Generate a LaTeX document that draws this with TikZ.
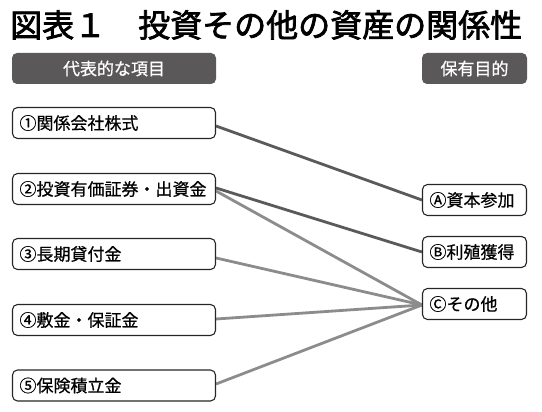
\documentclass[tikz,border=0pt]{standalone}
\usepackage{fontspec}
\setmainfont{Noto Sans CJK JP}
\newfontfamily\titlefont[FakeBold=2.2]{Noto Sans CJK JP}
\newfontfamily\itemfont[FakeBold=0.6]{Noto Sans CJK JP}
\usetikzlibrary{backgrounds}
\definecolor{hdr}{HTML}{5A5858}
\definecolor{darkln}{HTML}{5A5A5A}
\definecolor{lightln}{HTML}{8C8C8C}
\tikzset{
  item/.style={draw=black!85, line width=1.1pt, rounded corners=5pt, fill=white,
    minimum height=31pt, inner xsep=7pt, inner ysep=0pt, align=left,
    font=\itemfont\fontsize{17pt}{19pt}\selectfont},
  leftitem/.style={item, text width=189pt},
  rightitem/.style={item, text width=90pt},
  header/.style={fill=hdr, rounded corners=5pt, minimum height=31pt, inner sep=0pt,
    text=white, font=\itemfont\fontsize{17pt}{19pt}\selectfont},
  darklink/.style={draw=darkln, line width=2.8pt},
  lightlink/.style={draw=lightln, line width=2.8pt},
}
\begin{document}
\begin{tikzpicture}[x=1pt,y=-1pt]
\useasboundingbox (0,0) rectangle (542,412);
\node[anchor=base west, inner sep=0pt, font=\titlefont\fontsize{32pt}{34pt}\selectfont] (title) at (10,37) {図表１　投資その他の資産の関係性};
\node[header, minimum width=204pt] (hl) at (114,68.5) {代表的な項目};
\node[header, minimum width=105pt] (hr) at (474.5,68.5) {保有目的};
\node[leftitem] (b1) at (114,123) {①関係会社株式};
\node[leftitem] (b2) at (114,189) {②投資有価証券・出資金};
\node[leftitem] (b3) at (114,254) {③長期貸付金};
\node[leftitem] (b4) at (114,320) {④敷金・保証金};
\node[leftitem] (b5) at (114,385.5) {⑤保険積立金};
\node[rightitem] (ra) at (474.5,200) {Ⓐ資本参加};
\node[rightitem] (rb) at (474.5,252) {Ⓑ利殖獲得};
\node[rightitem] (rc) at (474.5,304) {Ⓒその他};
\begin{scope}[on background layer]
\draw[darklink] ([yshift=-3pt]b1.east) -- (ra.west);
\draw[darklink] ([yshift=1pt]b2.east) -- (rb.west);
\draw[lightlink] ([yshift=-2pt]b2.east) -- ([yshift=-1pt]rc.west);
\draw[lightlink] ([yshift=-4pt]b3.east) -- ([yshift=-1pt]rc.west);
\draw[lightlink] ([yshift=1pt]b4.east) -- ([yshift=-1pt]rc.west);
\draw[lightlink] ([yshift=1.5pt]b5.east) -- ([yshift=-1pt]rc.west);
\end{scope}
\end{tikzpicture}
\end{document}
